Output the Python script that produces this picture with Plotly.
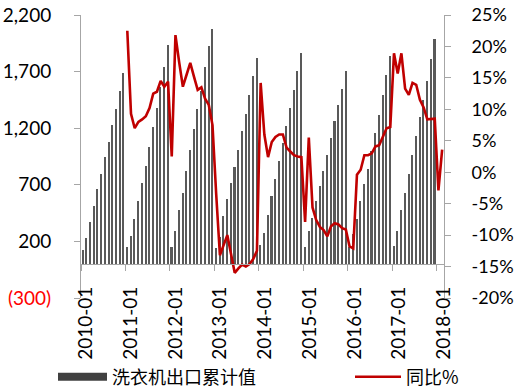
import plotly.graph_objects as go

# ---- data ----
months = [f"{y}-{m:02d}" for y in range(2010, 2018) for m in range(1, 13)] + ["2018-01", "2018-02"]

exports_cum = [
    # 2010
    120, 226, 370, 512, 660, 792, 943, 1078, 1225, 1367, 1529, 1688,
    # 2011
    149, 244, 394, 556, 713, 866, 1034, 1210, 1378, 1564, 1741, 1933,
    # 2012
    149, 291, 474, 630, 819, 1011, 1196, 1373, 1526, 1741, 1927, 2080,
    # 2013
    141, 238, 421, 571, 715, 857, 1011, 1172, 1329, 1491, 1659, 1820,
    # 2014
    164, 273, 436, 600, 748, 907, 1069, 1217, 1378, 1535, 1703, 1868,
    # 2015
    149, 291, 406, 553, 689, 821, 966, 1113, 1264, 1408, 1550, 1706,
    # 2016
    149, 265, 400, 553, 710, 843, 1000, 1161, 1320, 1491, 1668, 1835,
    # 2017
    158, 291, 480, 630, 798, 966, 1131, 1299, 1453, 1614, 1809, 1986,
    # 2018
    None, None,
]

yoy_pct = [
    # 2010
    None, None, None, None, None, None, None, None, None, None, None, None,
    # 2011
    22.5, 9.3, 7.0, 8.0, 8.4, 8.9, 10.2, 12.5, 12.8, 14.5, 13.6, 14.4,
    # 2012
    2.5, 21.8, 17.5, 13.6, 15.5, 17.4, 15.2, 13.1, 13.5, 11.7, 10.7, 7.5,
    # 2013
    -3.5, -13.2, -11.6, -10.0, -13.0, -16.0, -15.3, -14.7, -15.0, -14.6, -13.8, -12.5,
    # 2014
    14.2, 6.0, 2.4, 4.8, 5.6, 6.0, 6.0, 3.9, 3.3, 2.7, 2.5, 2.4,
    # 2015
    -7.9, 5.5, -5.6, -7.6, -8.7, -9.2, -10.2, -8.6, -8.1, -8.3, -8.9, -9.1,
    # 2016
    -11.8, -12.1, -0.4, 0.4, 2.7, 2.7, 3.0, 4.1, 4.3, 5.6, 7.0, 7.2,
    # 2017
    18.9, 15.7, 18.9, 13.3, 12.3, 14.2, 13.9, 11.5, 10.3, 8.4, 8.4, 8.5,
    # 2018
    -2.9, 3.6,
]

left_ticks = [-300, 200, 700, 1200, 1700, 2200]
left_ticktext = ["<span style='color:#FF0000'>(300)</span>", "200", "700", "1,200", "1,700", "2,200"]
right_ticks = [-20, -15, -10, -5, 0, 5, 10, 15, 20, 25]
right_ticktext = [f"{v}%" for v in right_ticks]
year_labels = [f"{y}-01" for y in range(2010, 2019)]

bar_name = "洗衣机出口累计值"
line_name = "同比%"

# ---- figure ----
idx = list(range(len(months)))
n = len(months)

fig = go.Figure()
fig.add_trace(go.Bar(
    x=idx, y=exports_cum, name=bar_name, width=0.42,
    marker=dict(color="#595959", line=dict(width=0)),
    showlegend=False, yaxis="y", hovertext=months,
))
fig.add_trace(go.Scatter(
    x=idx, y=yoy_pct, name=line_name, mode="lines", yaxis="y2",
    line=dict(color="#C00000", width=2.6), connectgaps=False,
    showlegend=True, legend="legend2", hovertext=months,
))
# legend proxy for bar series (wide rectangle swatch)
fig.add_trace(go.Scatter(
    x=[None], y=[None], name=bar_name, mode="lines", yaxis="y",
    line=dict(color="#404040", width=8), showlegend=True, legend="legend",
))

label_pos = [12 * k + 0.9 + 0.07 * k for k in range(len(year_labels))]
boundary_pos = [12 * k - 0.5 for k in range(len(year_labels))]

tickfont = dict(family="Lato", size=19, color="#000000")
rightfont = dict(family="Lato", size=18, color="#000000")
legendfont = dict(family="Noto Sans CJK SC", size=18, color="#000000")
axis_gray = "#A6A6A6"
plot_w = 520 - 81 - 76
plot_h = 389 - 15 - 91

fig.update_layout(
    width=520, height=389,
    margin=dict(l=81, r=76, t=15, b=91, autoexpand=False),
    paper_bgcolor="white", plot_bgcolor="white",
    bargap=0,
    xaxis=dict(
        range=[-0.5, n - 0.5], automargin=False,
        anchor="free", position=300 / 2500,
        showline=True, linecolor=axis_gray, linewidth=1,
        tickmode="array", tickvals=label_pos, ticktext=year_labels,
        tickangle=-90, ticks="", tickfont=tickfont, ticklabelstandoff=14,
        showgrid=False, zeroline=False,
        minor=dict(tickmode="array", tickvals=boundary_pos, ticks="outside",
                   ticklen=6, tickcolor=axis_gray, tickwidth=1, showgrid=False),
    ),
    yaxis=dict(
        range=[-300, 2200], automargin=False,
        tickmode="array", tickvals=left_ticks, ticktext=left_ticktext,
        showline=True, linecolor=axis_gray, linewidth=1,
        ticks="outside", ticklen=6, tickcolor=axis_gray,
        tickfont=tickfont, ticklabelstandoff=19,
        showgrid=False, zeroline=False,
    ),
    yaxis2=dict(
        range=[-20, 25], overlaying="y", side="right", anchor="x", automargin=False,
        tickmode="array", tickvals=right_ticks, ticktext=right_ticktext,
        showline=True, linecolor=axis_gray, linewidth=1,
        ticks="outside", ticklen=6, tickcolor=axis_gray,
        tickfont=rightfont, ticklabelstandoff=17,
        showgrid=False, zeroline=False,
    ),
    legend=dict(
        orientation="h", x=(53 - 81) / plot_w, y=(298 - 377) / plot_h,
        xanchor="left", yanchor="middle",
        font=legendfont, bgcolor="rgba(0,0,0,0)", itemwidth=49,
    ),
    legend2=dict(
        orientation="h", x=(350 - 81) / plot_w, y=(298 - 377) / plot_h,
        xanchor="left", yanchor="middle",
        font=legendfont, bgcolor="rgba(0,0,0,0)", itemwidth=46,
    ),
    showlegend=True,
)

fig.write_html("out.html", config={"displayModeBar": False},
               post_script="document.body.style.margin='0px';")
